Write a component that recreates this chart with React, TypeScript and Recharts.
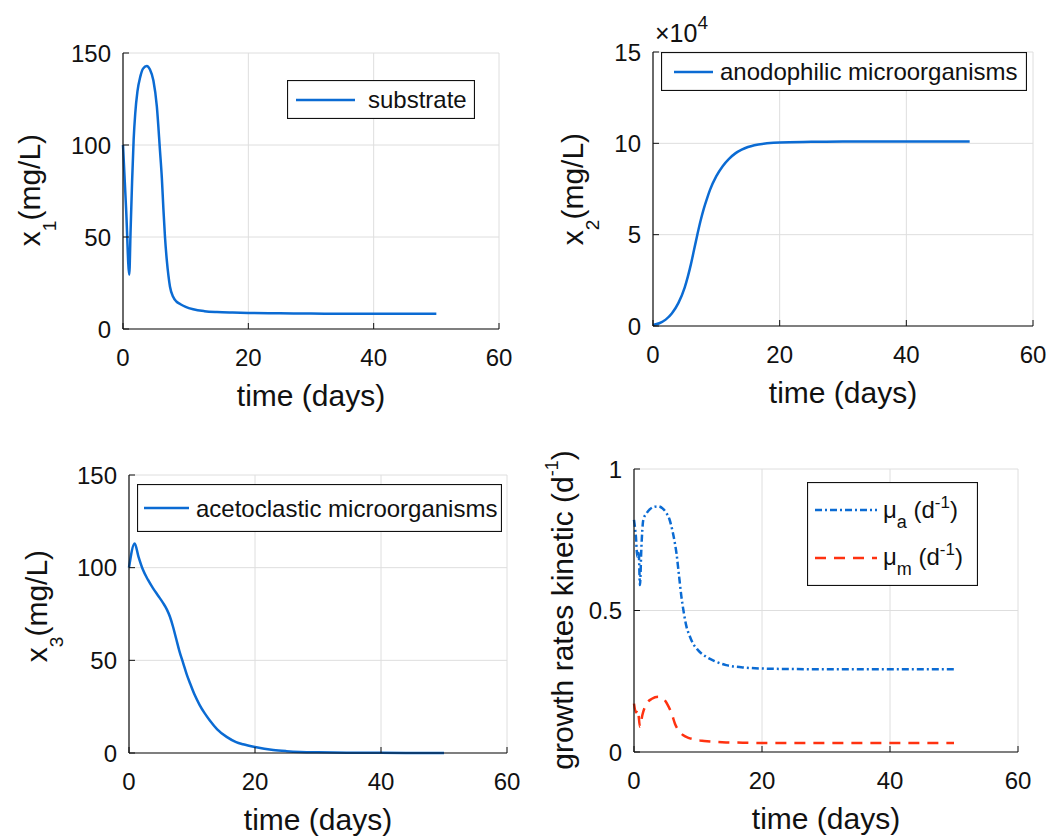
import React from 'react';
import { LineChart, Line, XAxis, YAxis, CartesianGrid, Legend } from 'recharts';

const FONT = "'Liberation Sans', Arial, Helvetica, sans-serif";
const BLUE = '#0B6BD3';
const RED = '#FF3210';
const AXIS = '#111';
const GRID = '#dedede';
const TEXT = '#111';

// ---------- data ----------
const timeTicks = [0, 20, 40, 60];
const x1Ticks = [0, 50, 100, 150];
const x2Ticks = [0, 50000, 100000, 150000];
const x3Ticks = [0, 50, 100, 150];
const muTicks = [0, 0.5, 1];

const substrateTime = [0, 0.5, 1.0, 1.2, 1.45, 1.7, 1.95, 2.3, 2.75, 3.2, 3.8, 4.3, 4.85, 5.4, 5.9, 6.2, 6.45, 6.7, 7.0, 7.25, 7.5, 8.0, 8.5, 9.1, 10, 11.2, 13, 15, 17.5, 20, 25, 30, 35, 40, 45, 50];
const substrateValues = [100, 65, 29.5, 52, 80, 103, 117, 129, 137, 141.5, 143, 141, 135, 121, 97, 82, 65, 50, 37, 29, 23, 17.5, 15, 13.6, 12, 10.7, 9.7, 9.2, 8.9, 8.7, 8.5, 8.4, 8.3, 8.3, 8.3, 8.3];

const anodoTime = [0, 1, 2, 3, 4, 5, 5.5, 6, 6.5, 7, 7.5, 8, 8.5, 9, 10, 11, 12, 13, 14, 15, 16, 18, 20, 25, 30, 40, 50];
const anodoValues = [500, 1500, 3500, 7000, 12500, 21000, 27000, 34000, 42000, 50000, 57500, 64000, 69500, 74500, 82000, 87500, 91500, 94500, 96500, 98000, 99000, 100000, 100500, 100800, 101000, 101000, 101000];

const acetoTime = [0, 0.9, 1.5, 2.2, 3, 3.8, 4.6, 5.4, 6, 6.5, 7, 7.5, 8, 8.6, 9.2, 9.7, 10.4, 11.2, 12, 12.8, 14, 15.5, 17, 18.1, 20, 22.9, 25, 27.2, 30, 35, 40, 45, 50];
const acetoValues = [100, 113, 106, 99, 93.5, 89, 85, 81, 77.5, 73.5, 68, 61.5, 55, 48.5, 42, 37.5, 31.5, 26, 21.5, 17.7, 12.8, 8.7, 5.9, 4.7, 3.2, 1.6, 1.0, 0.6, 0.35, 0.15, 0.08, 0.05, 0.03];

const muATime = [0, 0.3, 0.52, 0.73, 0.93, 1.15, 1.45, 2, 2.5, 3.1, 3.8, 4.5, 5.1, 5.5, 5.85, 6.25, 6.65, 7.0, 7.4, 7.8, 8.2, 8.7, 9.2, 10, 11.3, 12.5, 14.4, 17, 20, 25, 30, 40, 50];
const muAValues = [0.82, 0.76, 0.69, 0.71, 0.59, 0.72, 0.82, 0.845, 0.858, 0.866, 0.868, 0.86, 0.843, 0.825, 0.797, 0.755, 0.70, 0.63, 0.55, 0.49, 0.443, 0.41, 0.384, 0.36, 0.336, 0.322, 0.307, 0.299, 0.295, 0.293, 0.292, 0.292, 0.292];

const muMTime = [0, 0.3, 0.6, 0.93, 1.3, 1.97, 2.8, 3.8, 4.6, 5.3, 5.9, 6.4, 7.0, 7.7, 8.5, 9.3, 10.3, 12, 14.4, 17, 20, 30, 40, 50];
const muMValues = [0.171, 0.14, 0.15, 0.089, 0.13, 0.171, 0.188, 0.195, 0.188, 0.165, 0.135, 0.10, 0.075, 0.059, 0.05, 0.045, 0.041, 0.037, 0.034, 0.033, 0.032, 0.032, 0.032, 0.032];

const toRows = (ts: number[], vs: number[]) => ts.map((t, i) => ({ t, v: vs[i] }));

// ---------- ticks ----------
const fmtPlain = (v: number) => String(v);
const fmtE4 = (v: number) => String(v / 10000);

const bottomTick = (fmt: (v: number) => string) => (p: any) => (
  <g>
    <line x1={p.x} x2={p.x} y1={p.y} y2={p.y - 6} stroke={AXIS} strokeWidth={1} />
    <text x={p.x} y={p.y + 37} textAnchor="middle" fontSize={24} fontFamily={FONT} fill={TEXT}>
      {fmt(p.payload.value)}
    </text>
  </g>
);
const topTick = (p: any) => (
  <line x1={p.x} x2={p.x} y1={p.y} y2={p.y + 6} stroke={AXIS} strokeWidth={1} />
);
const leftTick = (fmt: (v: number) => string) => (p: any) => (
  <g>
    <line x1={p.x} x2={p.x + 6} y1={p.y} y2={p.y} stroke={AXIS} strokeWidth={1} />
    <text x={p.x - 12} y={p.y + 8.5} textAnchor="end" fontSize={24} fontFamily={FONT} fill={TEXT}>
      {fmt(p.payload.value)}
    </text>
  </g>
);
const rightTick = (p: any) => (
  <line x1={p.x} x2={p.x - 6} y1={p.y} y2={p.y} stroke={AXIS} strokeWidth={1} />
);

type Rect = { x: number; y: number; w: number; h: number };
type Plot = { l: number; t: number; r: number; b: number };
type SeriesDef = { data: { t: number; v: number }[]; color: string; dash?: string };

function Panel(props: {
  pos: Rect;
  plot: Plot;
  series: SeriesDef[];
  yDomain: [number, number];
  yTicks: number[];
  yFmt: (v: number) => string;
  yLabel: React.ReactNode;
  legend: { box: Rect; content: React.ReactNode };
}) {
  const { pos, plot, series, yDomain, yTicks, yFmt, yLabel, legend } = props;
  const xLabel = () => (
    <text
      x={(plot.l + plot.r) / 2}
      y={plot.b + 77}
      textAnchor="middle"
      fontSize={30}
      fontFamily={FONT}
      fill={TEXT}
    >
      time (days)
    </text>
  );
  const axisLine = { stroke: AXIS, strokeWidth: 1.2 };
  return (
    <div style={{ position: 'absolute', left: pos.x, top: pos.y, width: pos.w, height: pos.h }}>
      <LineChart
        width={pos.w}
        height={pos.h}
        margin={{ top: plot.t, right: pos.w - plot.r, left: 0, bottom: 0 }}
      >
        <CartesianGrid stroke={GRID} strokeWidth={1} />
        <XAxis
          dataKey="t"
          type="number"
          domain={[0, 60]}
          ticks={timeTicks}
          interval={0}
          height={pos.h - plot.b}
          tickSize={0}
          tickMargin={0}
          tickLine={false}
          axisLine={axisLine}
          tick={bottomTick(fmtPlain)}
          label={xLabel}
        />
        <XAxis
          xAxisId="top"
          orientation="top"
          dataKey="t"
          type="number"
          domain={[0, 60]}
          ticks={timeTicks}
          interval={0}
          height={0}
          tickSize={0}
          tickMargin={0}
          tickLine={false}
          axisLine={axisLine}
          tick={topTick}
        />
        <YAxis
          type="number"
          domain={yDomain}
          ticks={yTicks}
          interval={0}
          width={plot.l}
          tickSize={0}
          tickMargin={0}
          tickLine={false}
          axisLine={axisLine}
          tick={leftTick(yFmt)}
          label={() => yLabel}
        />
        <YAxis
          yAxisId="right"
          orientation="right"
          type="number"
          domain={yDomain}
          ticks={yTicks}
          interval={0}
          width={0}
          tickSize={0}
          tickMargin={0}
          tickLine={false}
          axisLine={axisLine}
          tick={rightTick}
        />
        {series.map((s, i) => (
          <Line
            key={i}
            data={s.data}
            dataKey="v"
            type="monotone"
            stroke={s.color}
            strokeWidth={2.5}
            strokeDasharray={s.dash}
            dot={false}
            activeDot={false}
            isAnimationActive={false}
          />
        ))}
        <Legend
          layout="vertical"
          align="center"
          verticalAlign="middle"
          wrapperStyle={{
            left: legend.box.x,
            top: legend.box.y,
            width: legend.box.w,
            height: legend.box.h,
          }}
          content={() => legend.content}
        />
      </LineChart>
    </div>
  );
}

function yLabelText(bx: number, cy: number, main: string, sub: string, rest: string, sup?: string, tail?: string) {
  return (
    <text
      x={bx}
      y={cy}
      transform={`rotate(-90, ${bx}, ${cy})`}
      textAnchor="middle"
      fontSize={30}
      fontFamily={FONT}
      fill={TEXT}
    >
      <tspan>{main}</tspan>
      {sub ? (
        <>
          <tspan dy={16} fontSize={19}>{sub}</tspan>
          <tspan dy={-16}>{rest}</tspan>
        </>
      ) : (
        <tspan>{rest}</tspan>
      )}
      {sup ? (
        <>
          <tspan dy={-15} fontSize={18}>{sup}</tspan>
          <tspan dy={15}>{tail}</tspan>
        </>
      ) : null}
    </text>
  );
}

function simpleLegend(box: Rect, lineX1: number, lineX2: number, lineY: number, textX: number, baseY: number, label: string) {
  return (
    <svg width={box.w} height={box.h} style={{ display: 'block' }}>
      <rect x={0.5} y={0.5} width={box.w - 1} height={box.h - 1} fill="#fff" stroke={AXIS} strokeWidth={1.2} />
      <line x1={lineX1} x2={lineX2} y1={lineY} y2={lineY} stroke={BLUE} strokeWidth={2.5} />
      <text x={textX} y={baseY} fontSize={24} fontFamily={FONT} fill={TEXT}>{label}</text>
    </svg>
  );
}

const p1Legend: Rect = { x: 287, y: 80, w: 188, h: 39 };
const p2Legend: Rect = { x: 130, y: 52, w: 366, h: 39 };
const p3Legend: Rect = { x: 137, y: 66, w: 365, h: 48 };
const p4Legend: Rect = { x: 276, y: 64, w: 171, h: 104 };

const muLegend = (
  <svg width={p4Legend.w} height={p4Legend.h} style={{ display: 'block' }}>
    <rect x={0.5} y={0.5} width={p4Legend.w - 1} height={p4Legend.h - 1} fill="#fff" stroke={AXIS} strokeWidth={1.2} />
    <line x1={8} x2={70} y1={28} y2={28} stroke={BLUE} strokeWidth={2.5} strokeDasharray="7 3 2 3" />
    <text x={76} y={36} fontSize={24} fontFamily={FONT} fill={TEXT}>
      <tspan>μ</tspan>
      <tspan dy={10} fontSize={18}>a</tspan>
      <tspan dy={-10}> (d</tspan>
      <tspan dy={-10} fontSize={17}>-1</tspan>
      <tspan dy={10}>)</tspan>
    </text>
    <line x1={8} x2={70} y1={76} y2={76} stroke={RED} strokeWidth={2.5} strokeDasharray="11 8" />
    <text x={76} y={83} fontSize={24} fontFamily={FONT} fill={TEXT}>
      <tspan>μ</tspan>
      <tspan dy={10} fontSize={18}>m</tspan>
      <tspan dy={-10}> (d</tspan>
      <tspan dy={-10} fontSize={17}>-1</tspan>
      <tspan dy={10}>)</tspan>
    </text>
  </svg>
);

export default function App() {
  const p2Label = (
    <g>
      {yLabelText(52, 189, 'x', '2', '(mg/L)')}
      <text x={124} y={42} fontSize={25} fontFamily={FONT} fill={TEXT}>
        <tspan>×10</tspan>
        <tspan dy={-13} fontSize={19}>4</tspan>
      </text>
    </g>
  );
  return (
    <div
      style={{
        position: 'absolute',
        left: 0,
        top: 0,
        width: 1062,
        height: 837,
        background: '#fff',
        overflow: 'hidden',
      }}
    >
      <Panel
        pos={{ x: 0, y: 0, w: 531, h: 418 }}
        plot={{ l: 123, t: 53, r: 499, b: 329 }}
        series={[{ data: toRows(substrateTime, substrateValues), color: BLUE }]}
        yDomain={[0, 150]}
        yTicks={x1Ticks}
        yFmt={fmtPlain}
        yLabel={yLabelText(40, 190, 'x', '1', '(mg/L)')}
        legend={{ box: p1Legend, content: simpleLegend(p1Legend, 9, 68, 20, 81, 28, 'substrate') }}
      />
      <Panel
        pos={{ x: 531, y: 0, w: 531, h: 418 }}
        plot={{ l: 122, t: 52, r: 502, b: 326 }}
        series={[{ data: toRows(anodoTime, anodoValues), color: BLUE }]}
        yDomain={[0, 150000]}
        yTicks={x2Ticks}
        yFmt={fmtE4}
        yLabel={p2Label}
        legend={{ box: p2Legend, content: simpleLegend(p2Legend, 13, 52, 20, 59, 28, 'anodophilic microorganisms') }}
      />
      <Panel
        pos={{ x: 0, y: 418, w: 531, h: 419 }}
        plot={{ l: 129, t: 57, r: 507, b: 335 }}
        series={[{ data: toRows(acetoTime, acetoValues), color: BLUE }]}
        yDomain={[0, 150]}
        yTicks={x3Ticks}
        yFmt={fmtPlain}
        yLabel={yLabelText(47, 188, 'x', '3', '(mg/L)')}
        legend={{ box: p3Legend, content: simpleLegend(p3Legend, 7, 52, 24, 59, 33, 'acetoclastic microorganisms') }}
      />
      <Panel
        pos={{ x: 531, y: 418, w: 531, h: 419 }}
        plot={{ l: 103, t: 51, r: 487, b: 334 }}
        series={[
          { data: toRows(muATime, muAValues), color: BLUE, dash: '7 3 2 3' },
          { data: toRows(muMTime, muMValues), color: RED, dash: '11 8' },
        ]}
        yDomain={[0, 1]}
        yTicks={muTicks}
        yFmt={fmtPlain}
        yLabel={yLabelText(42, 192, 'growth rates kinetic (d', '', '', '-1', ')')}
        legend={{ box: p4Legend, content: muLegend }}
      />
    </div>
  );
}
